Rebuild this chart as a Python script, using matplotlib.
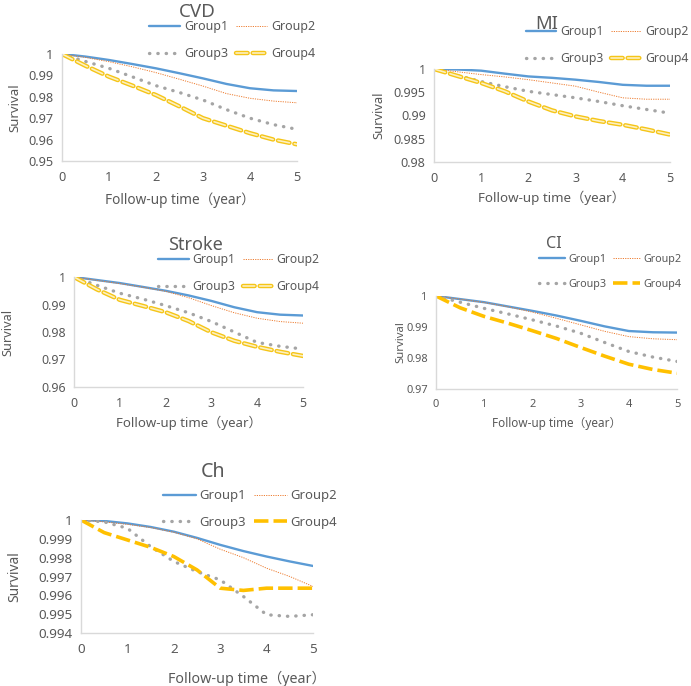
import numpy as np
import matplotlib
matplotlib.use('Agg')
import matplotlib.pyplot as plt
import matplotlib.patheffects as pe
from matplotlib.ticker import MultipleLocator, FuncFormatter

plt.rcParams['font.family'] = ['Noto Sans', 'Noto Sans CJK SC', 'DejaVu Sans']

# follow-up time (years), read every half year
years = [0, 0.5, 1, 1.5, 2, 2.5, 3, 3.5, 4, 4.5, 5]
groups = ['Group1', 'Group2', 'Group3', 'Group4']

cvd_surv = [
    [1, 0.9988, 0.9972, 0.9953, 0.9933, 0.9910, 0.9886, 0.9860, 0.9840, 0.9830, 0.9827],
    [1, 0.9984, 0.9964, 0.9940, 0.9913, 0.9882, 0.9850, 0.9815, 0.9793, 0.9780, 0.9772],
    [1, 0.9965, 0.9933, 0.9893, 0.9852, 0.9820, 0.9785, 0.9740, 0.9700, 0.9670, 0.9648],
    [1, 0.9945, 0.9894, 0.9852, 0.9808, 0.9755, 0.9700, 0.9665, 0.9630, 0.9600, 0.9578],
]
mi_surv = [
    [1, 0.9999, 0.99964, 0.9990, 0.9984, 0.9981, 0.9977, 0.9972, 0.9966, 0.9964, 0.9964],
    [1, 0.9994, 0.9988, 0.9983, 0.9977, 0.9970, 0.9963, 0.9950, 0.9938, 0.9935, 0.9935],
    [1, 0.9986, 0.9973, 0.9962, 0.9952, 0.9945, 0.9938, 0.9930, 0.9921, 0.9913, 0.9905],
    [1, 0.9985, 0.9970, 0.9952, 0.9930, 0.9911, 0.9898, 0.9888, 0.9880, 0.9870, 0.9859],
]
stroke_surv = [
    [1, 0.9989, 0.9978, 0.9964, 0.9950, 0.9933, 0.9913, 0.9890, 0.9872, 0.9863, 0.9860],
    [1, 0.9988, 0.9976, 0.9963, 0.9948, 0.9925, 0.9896, 0.9870, 0.9850, 0.9838, 0.9832],
    [1, 0.9970, 0.9941, 0.9920, 0.9896, 0.9870, 0.9838, 0.9800, 0.9762, 0.9748, 0.9738],
    [1, 0.9955, 0.9917, 0.9895, 0.9872, 0.9840, 0.9799, 0.9768, 0.9746, 0.9728, 0.9713],
]
ci_surv = [
    [1, 0.9990, 0.9980, 0.9966, 0.9952, 0.9937, 0.9920, 0.9902, 0.9887, 0.9883, 0.9882],
    [1, 0.9990, 0.9979, 0.9965, 0.9948, 0.9928, 0.9907, 0.9886, 0.9869, 0.9862, 0.9859],
    [1, 0.9980, 0.9960, 0.9942, 0.9923, 0.9903, 0.9880, 0.9850, 0.9821, 0.9803, 0.9789],
    [1, 0.9962, 0.9934, 0.9912, 0.9888, 0.9863, 0.9834, 0.9806, 0.9780, 0.9763, 0.9751],
]
ch_surv = [
    [1, 0.99995, 0.99982, 0.99963, 0.99938, 0.99905, 0.99868, 0.99835, 0.99806, 0.99780, 0.99756],
    [1, 0.99990, 0.99977, 0.99960, 0.99935, 0.99900, 0.99845, 0.99800, 0.99744, 0.99700, 0.99647],
    [1, 0.99990, 0.99956, 0.99859, 0.99780, 0.99726, 0.99682, 0.99594, 0.99497, 0.99488, 0.99497],
    [1, 0.99933, 0.99894, 0.99855, 0.99806, 0.99735, 0.99638, 0.99626, 0.99638, 0.99638, 0.99638],
]

W, H = 691, 686
fig = plt.figure(figsize=(W / 100, H / 100), dpi=100)
fig.patch.set_facecolor('white')

TXT = '#595959'

def px(x0, y0, x1, y1):
    # pixel box -> figure fraction rect
    return [x0 / W, 1 - y1 / H, (x1 - x0) / W, (y1 - y0) / H]

# name, data, ymin, ystep, axes box (px), title xy (px), legend center (px),
# ylabel x (axes), xlabel xy (axes), hollow group4 dashes, text scale
panels = [
    ('CVD', cvd_surv, 0.95, 0.01, (62, 54, 297, 161), (197, 12), (232, 40), -0.174, (0.50, -0.29), True, 1.0),
    ('MI', mi_surv, 0.98, 0.005, (434, 69, 670, 162), (547, 24), (607, 45), -0.208, (0.50, -0.31), True, 0.98),
    ('Stroke', stroke_surv, 0.96, 0.01, (74, 277, 303, 387), (196, 245), (239, 273), -0.262, (0.50, -0.264), True, 0.97),
    ('CI', ci_surv, 0.97, 0.01, (436, 296, 677, 389), (554, 244), (610, 272), -0.124, (0.50, -0.30), False, 0.86),
    ('Ch', ch_surv, 0.994, 0.001, (81, 520, 313, 633), (213, 472), (250, 509), -0.254, (0.716, -0.335), False, 1.05),
]

for name, data, ymin, ystep, box, tpos, lpos, ylx, xlxy, hollow, k in panels:
    ax = fig.add_axes(px(*box))
    g1, = ax.plot(years, data[0], color='#5b9bd5', lw=1.7, solid_capstyle='round')
    g2, = ax.plot(years, data[1], color='#ed7d31', lw=0.7, linestyle=(0, (1.2, 1.2)))
    g3, = ax.plot(years, data[2], color='#a5a5a5', lw=2.4, linestyle=(0, (0.1, 2.4)),
                  dash_capstyle='round')
    if hollow:
        g4, = ax.plot(years, data[3], color='#fdf0c0', lw=1.2, linestyle=(0, (7, 3)),
                      dash_capstyle='round',
                      path_effects=[pe.Stroke(linewidth=3.2, foreground='#f5c518'), pe.Normal()])
    else:
        g4, = ax.plot(years, data[3], color='#ffc000', lw=2.6, linestyle=(0, (4, 1.4)))

    ax.set_xlim(0, 5)
    ax.set_ylim(ymin, 1)
    ax.xaxis.set_major_locator(MultipleLocator(1))
    ax.yaxis.set_major_locator(MultipleLocator(ystep))
    ax.yaxis.set_major_formatter(FuncFormatter(lambda v, p: '%g' % round(v, 4)))
    for s in ['top', 'right']:
        ax.spines[s].set_visible(False)
    for s in ['left', 'bottom']:
        ax.spines[s].set_color('#d9d9d9')
        ax.spines[s].set_linewidth(1.0)
    ax.tick_params(length=0, labelsize=9.2 * k, colors=TXT)
    ax.tick_params(axis='x', pad=7)
    ax.tick_params(axis='y', pad=6)

    ax.set_ylabel('Survival', fontsize=9.5 * k, color=TXT)
    ax.yaxis.set_label_coords(ylx, 0.5)
    ax.set_xlabel('Follow-up time（year）', fontsize=9.8 * k, color=TXT)
    ax.xaxis.set_label_coords(*xlxy)

    fig.text(tpos[0] / W, 1 - tpos[1] / H, name, fontsize=13.5 * k, color=TXT,
             ha='center', va='center')

    fig.legend([g1, g3, g2, g4], [groups[0], groups[2], groups[1], groups[3]],
               ncol=2, loc='center', bbox_to_anchor=(lpos[0] / W, 1 - lpos[1] / H),
               frameon=False, fontsize=9 * k, labelcolor=TXT, handlelength=2.5,
               handletextpad=0.3, columnspacing=0.6, labelspacing=1.1 / k,
               borderpad=0, borderaxespad=0)

fig.savefig('out.png', dpi=100, facecolor='white')
